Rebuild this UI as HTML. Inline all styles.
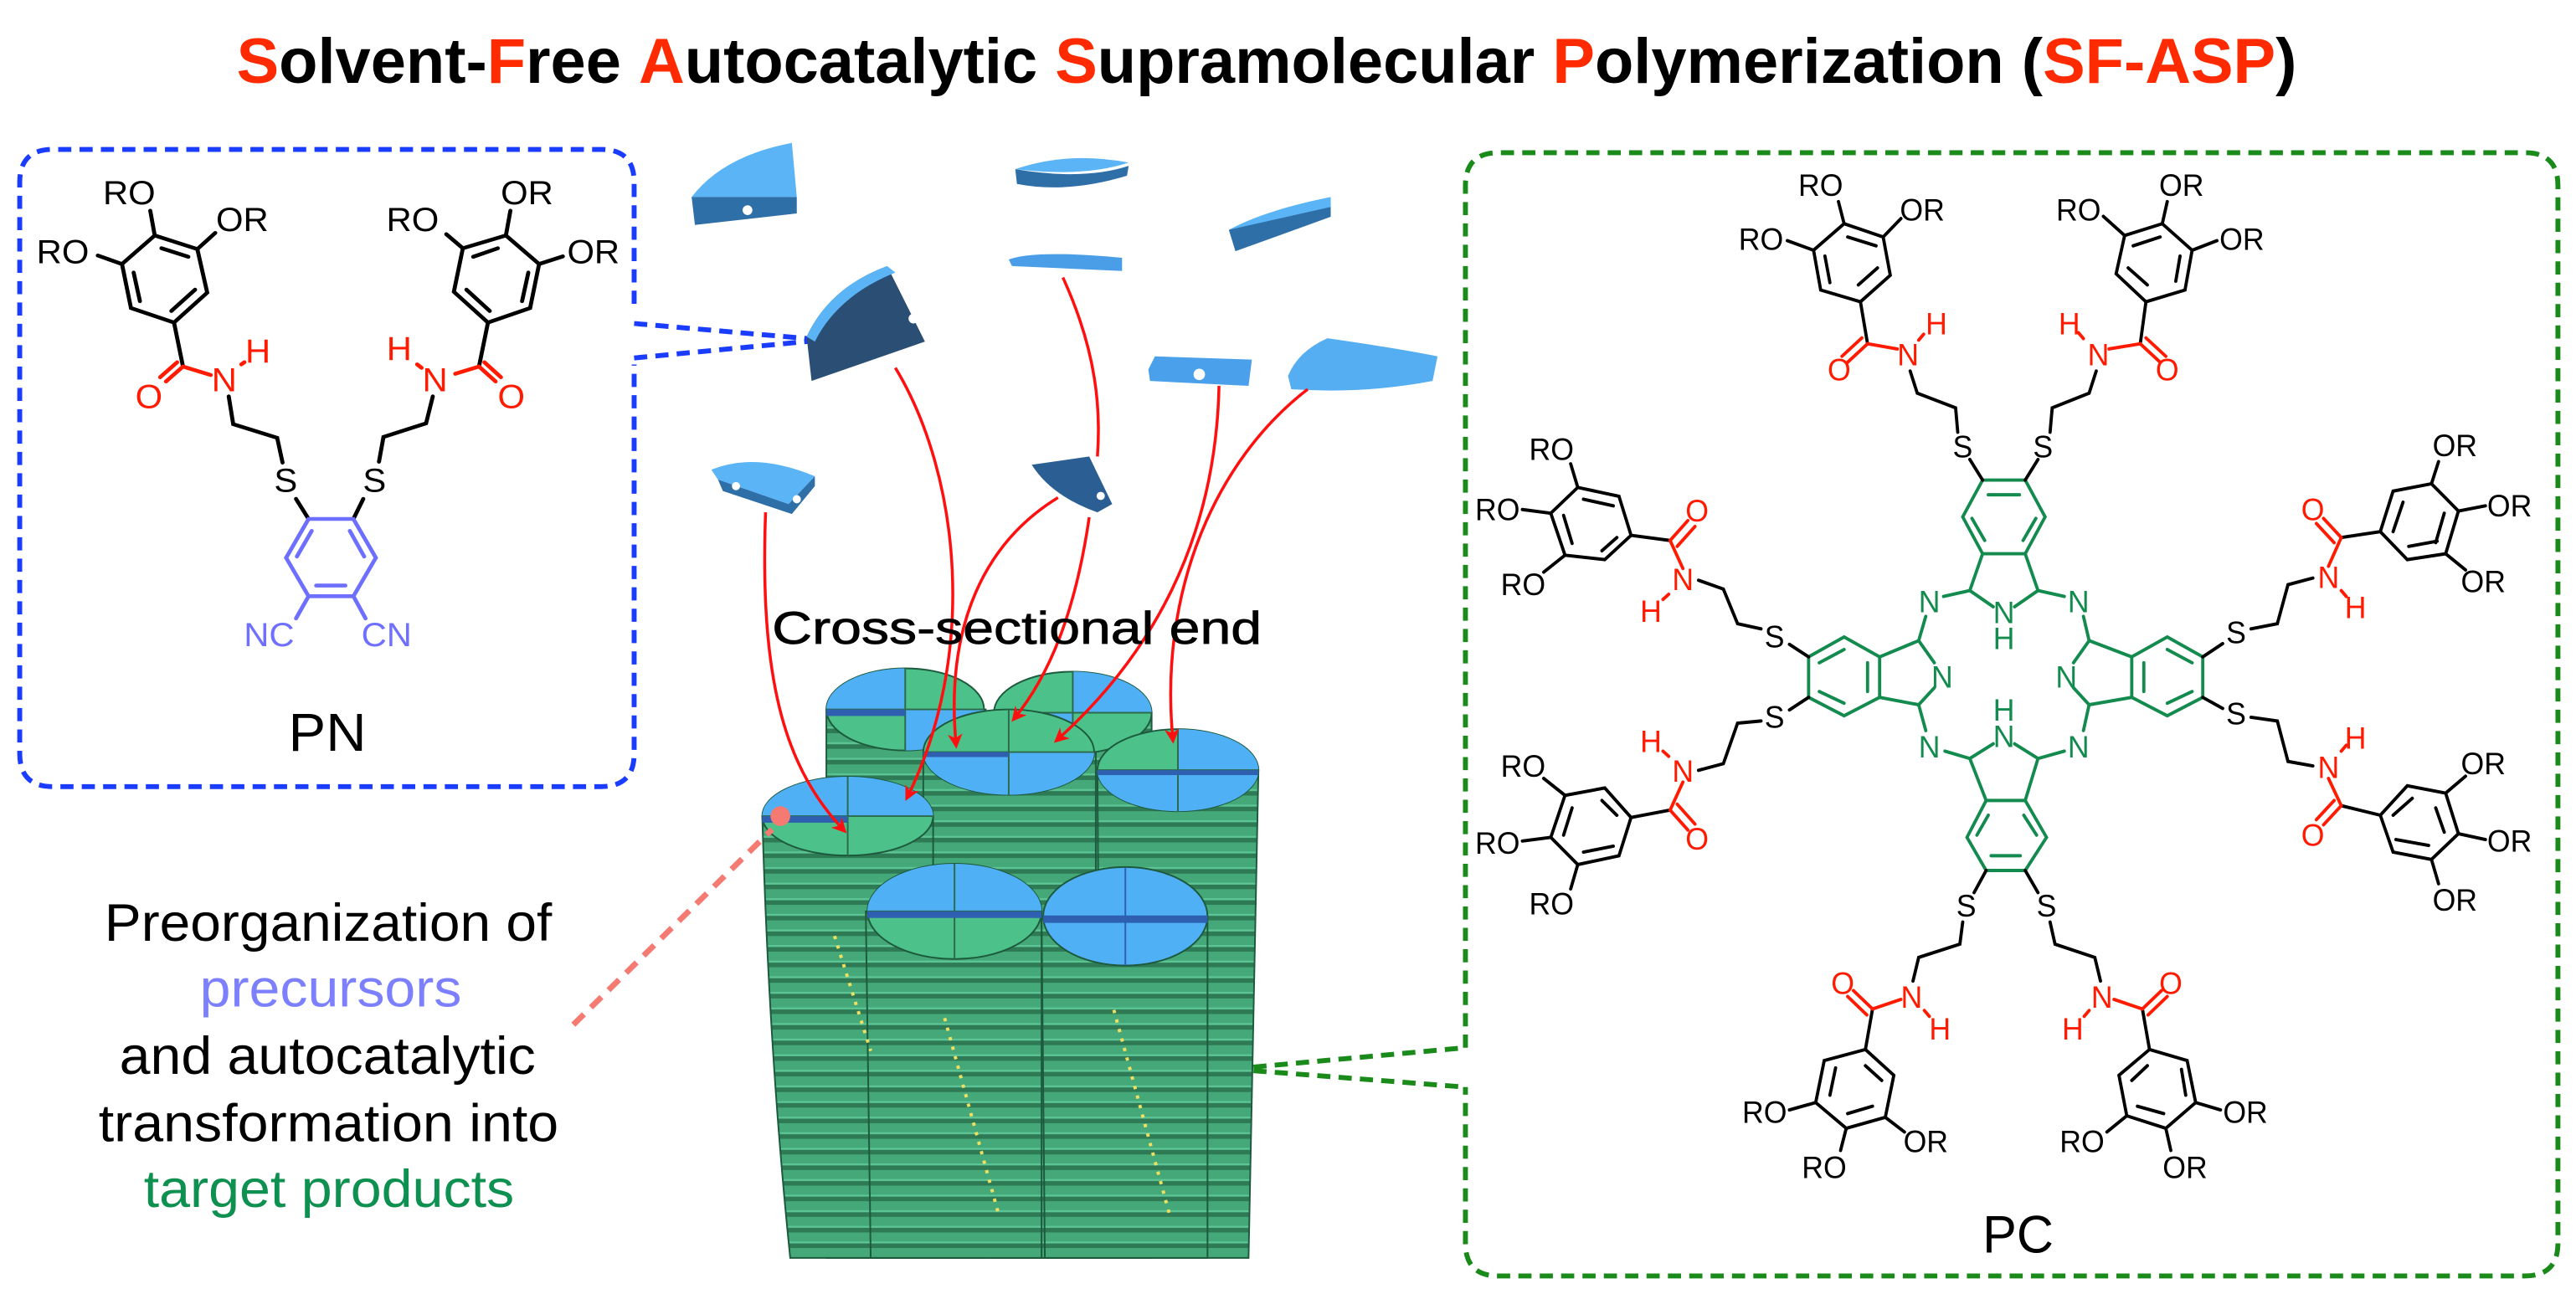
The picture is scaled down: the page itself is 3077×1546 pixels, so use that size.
<!DOCTYPE html>
<html><head><meta charset="utf-8"><style>
html,body{margin:0;padding:0;background:#fff;}
svg{display:block;}
text{font-family:"Liberation Sans",Arial,sans-serif;}
</style></head><body>
<svg width="3077" height="1546" viewBox="0 0 1568 788" preserveAspectRatio="none" xmlns="http://www.w3.org/2000/svg">
<defs>
<pattern id="st" patternUnits="userSpaceOnUse" width="20" height="9.5">
<rect width="20" height="9.5" fill="#2e7a55"/>
<rect y="0" width="20" height="5.5" fill="#45a878"/>
<rect y="5.5" width="20" height="1.2" fill="#5cc596"/>
</pattern>
<marker id="ah" markerWidth="9" markerHeight="9" refX="7" refY="4.5" orient="auto" markerUnits="userSpaceOnUse">
<path d="M0,0 L9,4.5 L0,9 L2.5,4.5 Z" fill="#ff1010"/>
</marker>
<clipPath id="c1"><ellipse cx="551" cy="432" rx="48" ry="25"/></clipPath>
<clipPath id="c2"><ellipse cx="653" cy="434" rx="48" ry="25"/></clipPath>
<clipPath id="c3"><ellipse cx="717" cy="469" rx="49" ry="25"/></clipPath>
<clipPath id="c4"><ellipse cx="614" cy="458" rx="52" ry="26"/></clipPath>
<clipPath id="c5"><ellipse cx="516" cy="497" rx="52" ry="24"/></clipPath>
<clipPath id="c6"><ellipse cx="581" cy="555" rx="53" ry="29"/></clipPath>
<clipPath id="c7"><ellipse cx="685" cy="558" rx="50" ry="30"/></clipPath>
</defs>

<!-- Title -->
<text x="144" y="50.4" font-size="39" font-weight="bold" textLength="1254" lengthAdjust="spacingAndGlyphs"><tspan fill="#ff2a00">S</tspan>olvent-<tspan fill="#ff2a00">F</tspan>ree <tspan fill="#ff2a00">A</tspan>utocatalytic <tspan fill="#ff2a00">S</tspan>upramolecular <tspan fill="#ff2a00">P</tspan>olymerization (<tspan fill="#ff2a00">SF-ASP</tspan>)</text>

<!-- Blue box -->
<path d="M386,185 L386,111 Q386,91 366,91 L32,91 Q12,91 12,111 L12,459 Q12,479 32,479 L366,479 Q386,479 386,459 L386,222" fill="none" stroke="#1a3cff" stroke-width="3" stroke-dasharray="8,5"/>
<line x1="386" y1="197" x2="501" y2="207" stroke="#1a3cff" stroke-width="3" stroke-dasharray="8,5"/>
<line x1="386" y1="218" x2="501" y2="207" stroke="#1a3cff" stroke-width="3" stroke-dasharray="8,5"/>

<!-- PN molecule -->
<g transform="translate(0,81.5) scale(0.273,0.26)" stroke-width="9" fill="none" stroke-linecap="round">
<g stroke="#000">
<polygon points="345,238 440,270 462,372 388,442 292,408 272,305"/>
<line x1="360" y1="268" x2="420" y2="288"/><line x1="435" y1="365" x2="382" y2="415"/><line x1="298" y1="325" x2="312" y2="392"/>
<line x1="345" y1="238" x2="335" y2="180"/><line x1="440" y1="270" x2="480" y2="232"/><line x1="272" y1="305" x2="218" y2="285"/>
<line x1="388" y1="442" x2="408" y2="545"/>
<polyline points="510,615 520,680 618,712 630,770"/>
<line x1="660" y1="855" x2="688" y2="902"/>
<polygon points="1128,238 1032,268 1012,370 1088,442 1182,408 1202,305"/>
<line x1="1110" y1="268" x2="1055" y2="288"/><line x1="1040" y1="365" x2="1092" y2="415"/><line x1="1178" y1="325" x2="1164" y2="392"/>
<line x1="1128" y1="238" x2="1138" y2="180"/><line x1="1032" y1="268" x2="995" y2="235"/><line x1="1202" y1="305" x2="1255" y2="287"/>
<line x1="1088" y1="442" x2="1068" y2="545"/>
<polyline points="965,615 950,678 855,710 845,768"/>
<line x1="810" y1="855" x2="788" y2="902"/>
</g>
<g stroke="#ff1a00">
<line x1="408" y1="545" x2="470" y2="565"/><line x1="408" y1="545" x2="370" y2="580"/><line x1="395" y1="535" x2="357" y2="570"/>
<line x1="538" y1="540" x2="545" y2="535"/>
<line x1="1068" y1="545" x2="1015" y2="562"/><line x1="1068" y1="545" x2="1105" y2="580"/><line x1="1080" y1="535" x2="1117" y2="570"/>
<line x1="930" y1="540" x2="940" y2="548"/>
</g>
<g stroke="#6e6eff">
<polygon points="688,902 788,902 838,993 788,1083 688,1083 638,993"/>
<line x1="695" y1="930" x2="662" y2="990"/><line x1="780" y1="930" x2="812" y2="990"/><line x1="705" y1="1058" x2="770" y2="1058"/>
<line x1="688" y1="1083" x2="660" y2="1135"/><line x1="788" y1="1083" x2="815" y2="1135"/>
</g>
<g stroke="none" font-size="78" text-anchor="middle">
<text x="288" y="165" fill="#000">RO</text><text x="540" y="228" fill="#000">OR</text><text x="140" y="303" fill="#000">RO</text>
<text x="1175" y="165" fill="#000">OR</text><text x="920" y="228" fill="#000">RO</text><text x="1323" y="303" fill="#000">OR</text>
<text x="332" y="642" fill="#ff1a00">O</text><text x="500" y="603" fill="#ff1a00">N</text><text x="575" y="535" fill="#ff1a00">H</text>
<text x="1140" y="642" fill="#ff1a00">O</text><text x="970" y="603" fill="#ff1a00">N</text><text x="890" y="530" fill="#ff1a00">H</text>
<text x="637" y="838" fill="#000">S</text><text x="835" y="838" fill="#000">S</text>
<text x="600" y="1200" fill="#7070ff">NC</text><text x="862" y="1200" fill="#7070ff">CN</text>
<text x="730" y="1445" font-size="125" fill="#000">PN</text>
</g>
</g>

<!-- Green box -->
<path d="M892,638 L892,113 Q892,93 912,93 L1537,93 Q1557,93 1557,113 L1557,757 Q1557,777 1537,777 L912,777 Q892,777 892,757 L892,662" fill="none" stroke="#1a8a1a" stroke-width="3" stroke-dasharray="8,5"/>
<line x1="750" y1="651" x2="892" y2="638" stroke="#1a8a1a" stroke-width="3" stroke-dasharray="8,5"/>
<line x1="750" y1="651" x2="892" y2="662" stroke="#1a8a1a" stroke-width="3" stroke-dasharray="8,5"/>

<!-- PC molecule -->
<g transform="translate(886.9,81.5) scale(0.4323,0.4486)" stroke-width="4.5" fill="none" stroke-linecap="round">
<g stroke="#138a4e">
<polygon points="740,470 800,470 828,520 800,570 740,570 712,520"/>
<line x1="748" y1="490" x2="792" y2="490"/><line x1="725" y1="522" x2="743" y2="552"/><line x1="815" y1="522" x2="797" y2="552"/>
<polyline points="722,620 740,570"/><polyline points="818,620 800,570"/>
<line x1="722" y1="620" x2="755" y2="642"/><line x1="785" y1="642" x2="818" y2="620"/>
<polygon points="745,905 800,905 830,955 800,1000 745,1000 718,955"/>
<line x1="752" y1="980" x2="793" y2="980"/><line x1="732" y1="952" x2="748" y2="925"/><line x1="816" y1="952" x2="798" y2="925"/>
<line x1="745" y1="905" x2="722" y2="848"/><line x1="800" y1="905" x2="818" y2="848"/>
<line x1="722" y1="848" x2="755" y2="828"/><line x1="785" y1="828" x2="818" y2="848"/>
<polygon points="545,683 595,710 595,765 545,790 495,765 495,710"/>
<line x1="510" y1="718" x2="545" y2="700"/><line x1="510" y1="757" x2="545" y2="773"/><line x1="578" y1="718" x2="578" y2="757"/>
<line x1="595" y1="710" x2="650" y2="688"/><line x1="595" y1="765" x2="650" y2="775"/>
<line x1="650" y1="688" x2="672" y2="718"/><line x1="650" y1="775" x2="672" y2="752"/>
<polygon points="1000,683 950,710 950,765 1000,790 1050,765 1050,710"/>
<line x1="1035" y1="718" x2="1000" y2="700"/><line x1="1035" y1="757" x2="1000" y2="773"/><line x1="967" y1="718" x2="967" y2="757"/>
<line x1="950" y1="710" x2="890" y2="688"/><line x1="950" y1="765" x2="890" y2="775"/>
<line x1="890" y1="688" x2="868" y2="718"/><line x1="890" y1="775" x2="868" y2="752"/>
<line x1="650" y1="688" x2="660" y2="655"/><line x1="685" y1="628" x2="722" y2="620"/>
<line x1="818" y1="620" x2="855" y2="628"/><line x1="882" y1="655" x2="890" y2="688"/>
<line x1="650" y1="775" x2="660" y2="810"/><line x1="687" y1="838" x2="722" y2="848"/>
<line x1="818" y1="848" x2="855" y2="838"/><line x1="882" y1="810" x2="890" y2="775"/>
</g>
<g stroke="#000">
<line x1="740" y1="470" x2="722" y2="442"/><polyline points="705,405 702,372 648,352 638,322"/>
<line x1="578" y1="285" x2="568" y2="228"/><polygon points="568,228 610,192 600,140 545,122 502,158 512,212"/>
<line x1="565" y1="205" x2="592" y2="182"/><line x1="550" y1="140" x2="590" y2="152"/><line x1="518" y1="166" x2="525" y2="202"/>
<line x1="545" y1="122" x2="537" y2="92"/><line x1="600" y1="140" x2="625" y2="115"/><line x1="502" y1="158" x2="465" y2="145"/>
<line x1="800" y1="470" x2="818" y2="442"/><polyline points="835,405 838,372 890,352 900,322"/>
<line x1="962" y1="285" x2="970" y2="228"/><polygon points="970,228 1025,212 1035,158 993,122 940,138 928,190"/>
<line x1="972" y1="205" x2="945" y2="182"/><line x1="990" y1="140" x2="952" y2="152"/><line x1="1018" y1="166" x2="1012" y2="200"/>
<line x1="993" y1="122" x2="1000" y2="92"/><line x1="940" y1="138" x2="910" y2="112"/><line x1="1035" y1="158" x2="1070" y2="145"/>
<line x1="495" y1="710" x2="468" y2="693"/><polyline points="428,672 395,665 375,618 340,606"/>
<line x1="300" y1="552" x2="245" y2="545"/><polygon points="245,545 208,578 152,572 132,515 170,480 228,492"/>
<line x1="225" y1="548" x2="204" y2="566"/><line x1="150" y1="518" x2="162" y2="556"/><line x1="178" y1="496" x2="220" y2="505"/>
<line x1="170" y1="480" x2="160" y2="448"/><line x1="132" y1="515" x2="92" y2="510"/><line x1="152" y1="572" x2="122" y2="595"/>
<line x1="495" y1="765" x2="468" y2="782"/><polyline points="428,797 395,800 375,855 340,864"/>
<line x1="300" y1="918" x2="245" y2="928"/><polygon points="245,928 228,980 170,992 132,955 152,898 208,888"/>
<line x1="225" y1="925" x2="204" y2="905"/><line x1="150" y1="952" x2="162" y2="915"/><line x1="178" y1="975" x2="220" y2="967"/>
<line x1="152" y1="898" x2="122" y2="875"/><line x1="132" y1="955" x2="92" y2="960"/><line x1="170" y1="992" x2="160" y2="1025"/>
<line x1="1050" y1="710" x2="1078" y2="692"/><polyline points="1118,672 1155,665 1170,612 1205,603"/>
<line x1="1245" y1="548" x2="1300" y2="540"/><polygon points="1300,540 1318,485 1372,475 1410,512 1392,570 1338,578"/>
<line x1="1318" y1="540" x2="1332" y2="500"/><line x1="1390" y1="515" x2="1378" y2="555"/><line x1="1340" y1="560" x2="1380" y2="553"/>
<line x1="1372" y1="475" x2="1382" y2="445"/><line x1="1410" y1="512" x2="1448" y2="505"/><line x1="1392" y1="570" x2="1420" y2="592"/>
<line x1="1050" y1="765" x2="1078" y2="780"/><polyline points="1118,792 1155,797 1170,852 1205,858"/>
<line x1="1245" y1="912" x2="1300" y2="925"/><polygon points="1300,925 1338,885 1392,895 1410,950 1372,985 1318,975"/>
<line x1="1318" y1="925" x2="1345" y2="902"/><line x1="1390" y1="948" x2="1378" y2="915"/><line x1="1322" y1="958" x2="1368" y2="966"/>
<line x1="1392" y1="895" x2="1420" y2="872"/><line x1="1410" y1="950" x2="1448" y2="958"/><line x1="1372" y1="985" x2="1382" y2="1018"/>
<line x1="745" y1="1000" x2="728" y2="1030"/><polyline points="712,1070 708,1100 650,1118 642,1150"/>
<line x1="585" y1="1188" x2="575" y2="1243"/><polygon points="575,1243 615,1278 603,1335 548,1350 505,1315 517,1258"/>
<line x1="575" y1="1265" x2="598" y2="1285"/><line x1="585" y1="1320" x2="550" y2="1330"/><line x1="525" y1="1305" x2="533" y2="1268"/>
<line x1="505" y1="1315" x2="468" y2="1325"/><line x1="548" y1="1350" x2="540" y2="1380"/><line x1="603" y1="1335" x2="630" y2="1355"/>
<line x1="800" y1="1000" x2="818" y2="1030"/><polyline points="835,1070 842,1100 898,1118 906,1150"/>
<line x1="965" y1="1188" x2="975" y2="1243"/><polygon points="975,1243 1028,1258 1040,1315 998,1350 943,1333 932,1278"/>
<line x1="950" y1="1285" x2="972" y2="1265"/><line x1="958" y1="1320" x2="995" y2="1330"/><line x1="1020" y1="1270" x2="1026" y2="1305"/>
<line x1="1040" y1="1315" x2="1075" y2="1325"/><line x1="998" y1="1350" x2="1005" y2="1380"/><line x1="943" y1="1333" x2="915" y2="1355"/>
</g>
<g stroke="#ff1a00">
<line x1="620" y1="292" x2="578" y2="285"/><line x1="578" y1="285" x2="550" y2="310"/><line x1="570" y1="277" x2="542" y2="302"/><line x1="650" y1="280" x2="657" y2="272"/>
<line x1="918" y1="292" x2="962" y2="285"/><line x1="962" y1="285" x2="990" y2="310"/><line x1="970" y1="277" x2="998" y2="302"/><line x1="882" y1="278" x2="875" y2="270"/>
<line x1="318" y1="590" x2="300" y2="552"/><line x1="300" y1="552" x2="325" y2="525"/><line x1="310" y1="560" x2="335" y2="533"/><line x1="298" y1="625" x2="290" y2="632"/>
<line x1="318" y1="880" x2="300" y2="918"/><line x1="300" y1="918" x2="325" y2="945"/><line x1="310" y1="910" x2="335" y2="937"/><line x1="298" y1="845" x2="290" y2="838"/>
<line x1="1227" y1="587" x2="1245" y2="548"/><line x1="1245" y1="548" x2="1220" y2="522"/><line x1="1235" y1="555" x2="1210" y2="529"/><line x1="1245" y1="620" x2="1252" y2="628"/>
<line x1="1227" y1="875" x2="1245" y2="912"/><line x1="1245" y1="912" x2="1220" y2="938"/><line x1="1235" y1="905" x2="1210" y2="931"/><line x1="1245" y1="838" x2="1252" y2="830"/>
<line x1="625" y1="1175" x2="585" y2="1188"/><line x1="585" y1="1188" x2="558" y2="1163"/><line x1="577" y1="1196" x2="550" y2="1171"/><line x1="658" y1="1190" x2="665" y2="1198"/>
<line x1="925" y1="1175" x2="965" y2="1188"/><line x1="965" y1="1188" x2="992" y2="1163"/><line x1="973" y1="1196" x2="1000" y2="1171"/><line x1="890" y1="1190" x2="883" y2="1198"/>
</g>
<g stroke="none" font-size="42" text-anchor="middle" dominant-baseline="central">
<g fill="#138a4e">
<text x="770" y="650">N</text><text x="770" y="685">H</text>
<text x="770" y="818">N</text><text x="770" y="782">H</text>
<text x="683" y="737">N</text><text x="858" y="737">N</text>
<text x="665" y="635">N</text><text x="875" y="635">N</text><text x="665" y="832">N</text><text x="875" y="832">N</text>
</g>
<g fill="#000">
<text x="712" y="425">S</text><text x="825" y="425">S</text><text x="447" y="683">S</text><text x="447" y="792">S</text>
<text x="1097" y="677">S</text><text x="1097" y="787">S</text><text x="717" y="1048">S</text><text x="830" y="1048">S</text>
<text x="512" y="70">RO</text><text x="655" y="103">OR</text><text x="428" y="143">RO</text>
<text x="1020" y="70">OR</text><text x="875" y="103">RO</text><text x="1105" y="143">OR</text>
<text x="133" y="428">RO</text><text x="57" y="510">RO</text><text x="93" y="612">RO</text>
<text x="93" y="858">RO</text><text x="57" y="963">RO</text><text x="133" y="1045">RO</text>
<text x="1405" y="423">OR</text><text x="1482" y="505">OR</text><text x="1445" y="608">OR</text>
<text x="1445" y="855">OR</text><text x="1482" y="960">OR</text><text x="1405" y="1040">OR</text>
<text x="433" y="1328">RO</text><text x="517" y="1403">RO</text><text x="660" y="1368">OR</text>
<text x="1110" y="1328">OR</text><text x="1025" y="1403">OR</text><text x="880" y="1368">RO</text>
<text x="790" y="1495" font-size="72">PC</text>
</g>
<g fill="#ff1a00">
<text x="635" y="300">N</text><text x="675" y="258">H</text><text x="538" y="320">O</text>
<text x="903" y="300">N</text><text x="862" y="258">H</text><text x="1000" y="320">O</text>
<text x="318" y="605">N</text><text x="273" y="648">H</text><text x="338" y="512">O</text>
<text x="318" y="865">N</text><text x="273" y="825">H</text><text x="338" y="957">O</text>
<text x="1227" y="602">N</text><text x="1265" y="643">H</text><text x="1205" y="510">O</text>
<text x="1227" y="860">N</text><text x="1265" y="820">H</text><text x="1205" y="952">O</text>
<text x="640" y="1172">N</text><text x="680" y="1215">H</text><text x="543" y="1153">O</text>
<text x="908" y="1172">N</text><text x="867" y="1215">H</text><text x="1005" y="1153">O</text>
</g>
</g>
</g>

<!-- Cylinder bundle: columns back to front, each body + top -->
<g stroke="#1d5a3d" stroke-width="1">
<path d="M503,432 L503,766 L600,766 L600,432 Z" fill="url(#st)"/>
<ellipse cx="551" cy="432" rx="48" ry="25" fill="#4cc28a"/>
<g clip-path="url(#c1)" fill="#4fb0f5" stroke="none"><rect x="500" y="400" width="51" height="32"/><rect x="551" y="432" width="51" height="30"/></g>
<path d="M503,432 H599 M551,407 V457" stroke="#2c6a4c"/>

<path d="M604,434 L604,766 L701,766 L701,434 Z" fill="url(#st)"/>
<ellipse cx="653" cy="434" rx="48" ry="25" fill="#4cc28a"/>
<g clip-path="url(#c2)" fill="#4fb0f5" stroke="none"><rect x="600" y="434" width="53" height="30"/><rect x="653" y="405" width="52" height="29"/></g>
<path d="M605,434 H701 M653,409 V459" stroke="#2c6a4c"/>

<path d="M668,469 L670,766 L760,766 L766,469 Z" fill="url(#st)"/>
<ellipse cx="717" cy="469" rx="49" ry="25" fill="#4cc28a"/>
<g clip-path="url(#c3)" fill="#4fb0f5" stroke="none"><rect x="665" y="469" width="110" height="30"/><rect x="717" y="440" width="52" height="29"/></g>
<path d="M668,469 H766 M717,444 V494" stroke="#2c6a4c"/>

<path d="M562,458 L562,766 L667,766 L667,458 Z" fill="url(#st)"/>
<ellipse cx="614" cy="458" rx="52" ry="26" fill="#4cc28a"/>
<g clip-path="url(#c4)" fill="#4fb0f5" stroke="none"><rect x="560" y="458" width="110" height="30"/></g>
<path d="M562,458 H666 M614,432 V484" stroke="#2c6a4c"/>

<path d="M464,497 Q468,640 481,766 L568,766 L568,497 Z" fill="url(#st)"/>
<ellipse cx="516" cy="497" rx="52" ry="24" fill="#4cc28a"/>
<g clip-path="url(#c5)" fill="#4fb0f5" stroke="none"><rect x="460" y="470" width="110" height="27"/></g>
<path d="M464,497 H568 M516,473 V521" stroke="#2c6a4c"/>

<path d="M527,555 L530,766 L634,766 L634,555 Z" fill="url(#st)"/>
<ellipse cx="581" cy="555" rx="53" ry="29" fill="#4cc28a"/>
<g clip-path="url(#c6)" fill="#4fb0f5" stroke="none"><rect x="525" y="520" width="112" height="35"/></g>
<path d="M528,555 H634 M581,526 V584" stroke="#2c6a4c"/>

<path d="M634,558 L636,766 L735,766 L735,558 Z" fill="url(#st)"/>
<ellipse cx="685" cy="558" rx="50" ry="30" fill="#4fb0f5"/>
<path d="M635,558 H735 M685,528 V588" stroke="#2f5fb0"/>
</g>
<!-- blue rims -->
<g fill="#2f5fb0">
<rect x="503" y="432" width="48" height="4"/><rect x="464" y="497" width="52" height="4"/><rect x="528" y="555" width="106" height="4"/>
<rect x="635" y="558" width="100" height="4"/><rect x="562" y="458" width="52" height="3"/><rect x="668" y="469" width="98" height="3"/>
</g>
<!-- dotted diagonal lines -->
<g stroke="#f0e060" stroke-width="2" stroke-dasharray="2,4">
<line x1="508" y1="570" x2="530" y2="640"/><line x1="575" y1="620" x2="608" y2="740"/><line x1="678" y1="615" x2="712" y2="740"/>
</g>

<!-- floating pieces -->
<g>
<path d="M421,120 Q440,95 482,87 L485,120 Z" fill="#5ab4f5"/><path d="M421,120 L485,120 L485,130 L423,137 Z" fill="#2f6fa8"/>
<circle cx="455" cy="128" r="3" fill="#fff"/>
<path d="M618,103 Q650,92 687,99 Q660,108 618,103 Z" fill="#5ab4f5"/><path d="M618,103 Q660,110 687,101 L686,107 Q650,118 619,112 Z" fill="#2f6fa8"/>
<path d="M748,140 Q770,128 810,120 L810,126 L752,150 Z" fill="#5ab4f5"/><path d="M748,140 L810,126 L810,132 L752,153 Z" fill="#2f6fa8"/>
<path d="M614,158 Q630,152 683,157 L683,165 L616,162 Z" fill="#4a9ee8"/>
<path d="M491,205 Q505,175 540,162 L563,208 L494,232 Z" fill="#2b4f74"/><path d="M491,205 Q505,175 540,162 L545,166 Q510,180 496,208 Z" fill="#5ab4f5"/>
<circle cx="556" cy="194" r="3" fill="#fff"/>
<path d="M699,225 L703,217 L762,219 L760,235 L700,232 Z" fill="#4aa0ea"/><circle cx="730" cy="228" r="3.5" fill="#fff"/>
<path d="M784,229 Q790,214 808,206 Q850,212 875,217 L872,232 Q830,240 786,237 Z" fill="#55adf2"/>
<path d="M433,286 Q460,275 496,290 L480,307 L437,292 Z" fill="#5ab4f5"/><path d="M437,292 L480,307 L496,290 L496,296 L482,313 L440,299 Z" fill="#2f6fa8"/>
<circle cx="448" cy="296" r="2.5" fill="#fff"/><circle cx="485" cy="304" r="2.5" fill="#fff"/>
<path d="M628,283 L663,278 L677,307 L668,312 Q640,302 628,283 Z" fill="#2b5f94"/><circle cx="670" cy="302" r="2.5" fill="#fff"/>
</g>

<!-- red arrows -->
<g stroke="#ff1010" stroke-width="1.8" fill="none">
<path d="M466,312 C462,420 480,470 514,506" marker-end="url(#ah)"/>
<path d="M545,224 C585,290 595,400 552,486" marker-end="url(#ah)"/>
<path d="M647,169 C668,215 670,250 668,278"/>
<path d="M663,315 C655,370 640,410 617,438" marker-end="url(#ah)"/>
<path d="M644,303 C600,330 575,380 582,454" marker-end="url(#ah)"/>
<path d="M742,235 C740,330 700,400 643,451" marker-end="url(#ah)"/>
<path d="M796,237 C740,280 705,360 714,451" marker-end="url(#ah)"/>
</g>

<!-- Cross-sectional end -->
<text x="470" y="392" font-size="28" fill="#000" stroke="#000" stroke-width="0.4" textLength="298" lengthAdjust="spacingAndGlyphs">Cross-sectional end</text>

<!-- salmon line & dot -->
<line x1="349" y1="624" x2="470" y2="505" stroke="#f47a72" stroke-width="3.5" stroke-dasharray="9,6"/>
<circle cx="475" cy="497" r="6" fill="#f47a72"/>

<!-- left text -->
<g font-size="32" fill="#000">
<text x="63.6" y="572.8" textLength="272.4" lengthAdjust="spacingAndGlyphs">Preorganization of</text>
<text x="121.6" y="613" textLength="159.4" lengthAdjust="spacingAndGlyphs" fill="#7c80ff">precursors</text>
<text x="72.7" y="654" textLength="253.3" lengthAdjust="spacingAndGlyphs">and autocatalytic</text>
<text x="60" y="695" textLength="280" lengthAdjust="spacingAndGlyphs">transformation into</text>
<text x="87.5" y="735" textLength="225.5" lengthAdjust="spacingAndGlyphs" fill="#0e9150">target products</text>
</g>
</svg>
</body></html>
